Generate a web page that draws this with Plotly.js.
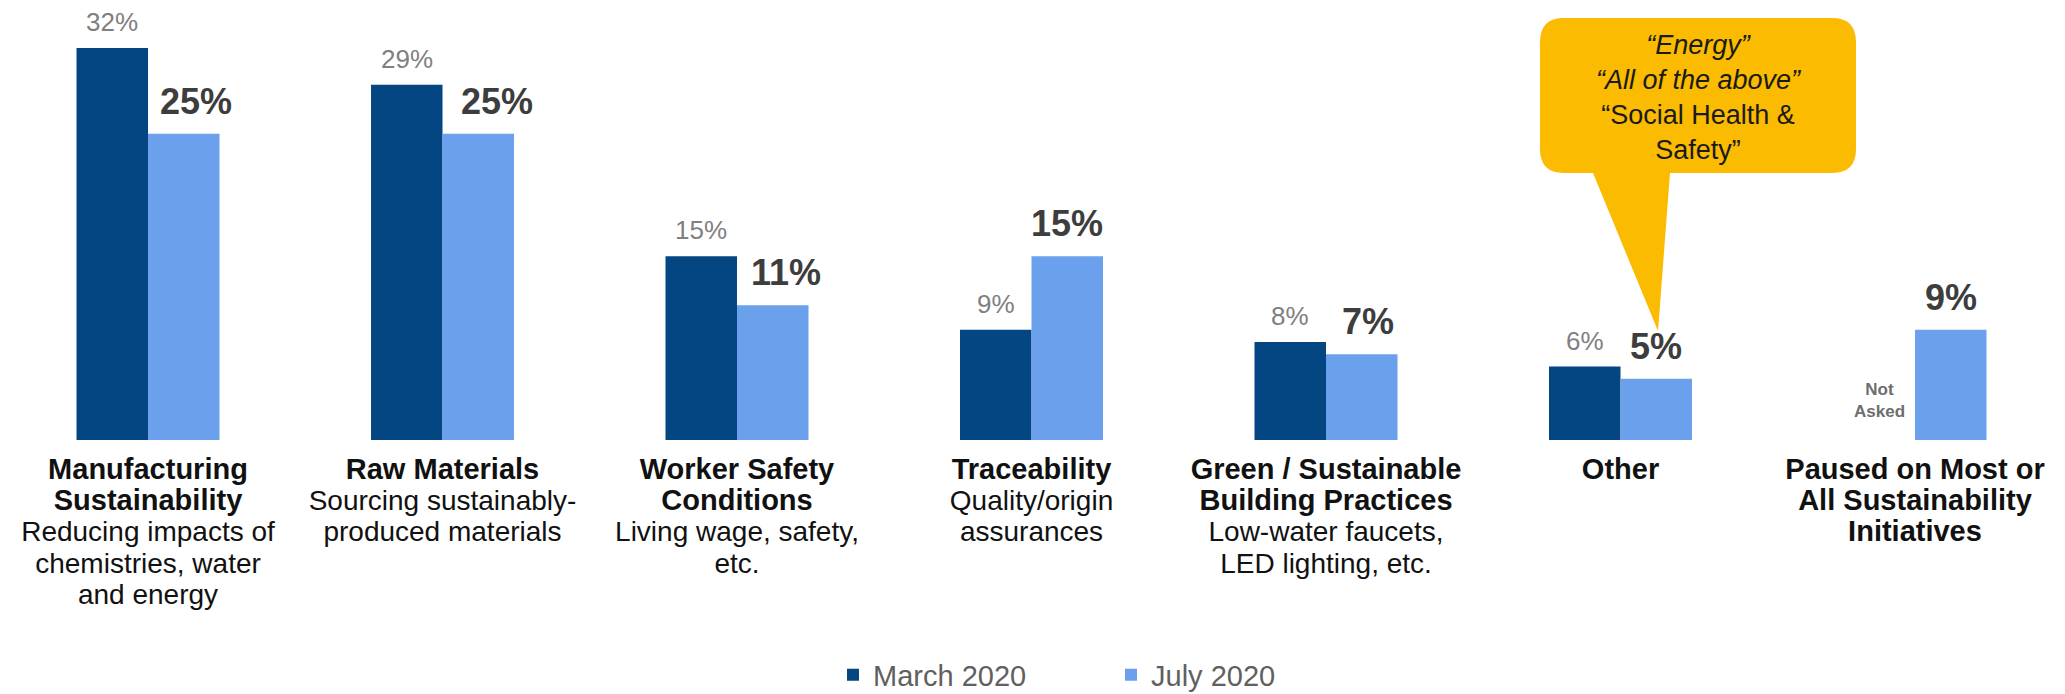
<!DOCTYPE html>
<html>
<head>
<meta charset="utf-8">
<script src="https://cdn.plot.ly/plotly-3.0.1.min.js"></script>
<style>
  html, body { margin: 0; padding: 0; background: #ffffff; }
  #chart { width: 2065px; height: 694px; }
</style>
</head>
<body>
<div id="chart"></div>
<script>
// ---------------- DATA ----------------
const categories = [
  "Manufacturing Sustainability",
  "Raw Materials",
  "Worker Safety Conditions",
  "Traceability",
  "Green / Sustainable Building Practices",
  "Other",
  "Paused on Most or All Sustainability Initiatives"
];
const categoryTitleLines = [
  ["Manufacturing", "Sustainability"],
  ["Raw Materials"],
  ["Worker Safety", "Conditions"],
  ["Traceability"],
  ["Green / Sustainable", "Building Practices"],
  ["Other"],
  ["Paused on Most or", "All Sustainability", "Initiatives"]
];
const categoryDescLines = [
  ["Reducing impacts of", "chemistries, water", "and energy"],
  ["Sourcing sustainably-", "produced materials"],
  ["Living wage, safety,", "etc."],
  ["Quality/origin", "assurances"],
  ["Low-water faucets,", "LED lighting, etc."],
  [],
  []
];
const seriesNames = ["March 2020", "July 2020"];
const march2020 = [32, 29, 15, 9, 8, 6, null];
const july2020  = [25, 25, 11, 15, 7, 5, 9];
const notAskedLabel = ["Not", "Asked"];
const calloutItalicLines = ["\u201CEnergy\u201D", "\u201CAll of the above\u201D"];
const calloutPlainLines  = ["\u201CSocial Health &amp;", "Safety\u201D"];

// ---------------- STYLE / LAYOUT CONSTANTS ----------------
const W = 2065, H = 694;
const FONT = "Liberation Sans, Arial, Helvetica, sans-serif";
const plotBottomPx = 440;          // pixel row of the bar baseline
const pxPerPercent = 12.25;
const pxPerCat = 294.5;
const firstCenterPx = 148;
const barPx = 71.5;
const darkBlue = "#044681";
const lightBlue = "#6BA0EC";
const calloutYellow = "#FBBB00";
const julyLabelNudge = [12, 19, 13, 0, 6, 0, 0];  // PowerPoint-style label offsets

const xRange = [-firstCenterPx / pxPerCat, (W - firstCenterPx) / pxPerCat];
const yRange = [0, plotBottomPx / pxPerPercent];

// tick labels (category text)
const tickText = categories.map((c, i) => {
  const t = categoryTitleLines[i].map(s => '<span style="font-size:29px"><b>' + s + '</b></span>');
  const d = categoryDescLines[i].map(s => '<span style="font-size:28px">' + s + '</span>');
  return t.concat(d).join('<br>');
});

const traces = [
  {
    type: 'bar', name: seriesNames[0], x: categories, y: march2020,
    marker: { color: darkBlue }, hoverinfo: 'x+y+name'
  },
  {
    type: 'bar', name: seriesNames[1], x: categories, y: july2020,
    marker: { color: lightBlue }, hoverinfo: 'x+y+name'
  }
];

const annotations = [];
march2020.forEach((v, i) => {
  if (v === null) return;
  annotations.push({
    x: categories[i], y: v, xref: 'x', yref: 'y',
    text: v + '%', showarrow: false,
    xshift: -barPx / 2, yanchor: 'bottom', yshift: 9,
    font: { family: FONT, size: 26, color: '#808080' }
  });
});
july2020.forEach((v, i) => {
  if (v === null) return;
  annotations.push({
    x: categories[i], y: v, xref: 'x', yref: 'y',
    text: '<b>' + v + '%</b>', showarrow: false,
    xshift: barPx / 2 + julyLabelNudge[i], yanchor: 'bottom', yshift: 10,
    font: { family: FONT, size: 36, color: '#3d3d3d' }
  });
});
// "Not Asked" in the empty March slot
march2020.forEach((v, i) => {
  if (v !== null) return;
  annotations.push({
    x: categories[i], y: 0, xref: 'x', yref: 'y',
    text: '<b>' + notAskedLabel.join('<br>') + '</b>', showarrow: false,
    xshift: -barPx / 2, yanchor: 'bottom', yshift: 17, align: 'center',
    font: { family: FONT, size: 17, color: '#6e6e6e' }
  });
});

// callout (speech bubble)
const px = x => x / W;
const py = y => 1 - y / plotBottomPx;
const box = { x0: 1540, x1: 1856, y0: 18, y1: 173, r: 24 };
const ptr = { left: 1593, right: 1670, tipX: 1658, tipY: 331 };
const P = (x, y) => px(x).toFixed(5) + ',' + py(y).toFixed(5);
const calloutPath =
  'M' + P(box.x0 + box.r, box.y0) +
  ' L' + P(box.x1 - box.r, box.y0) +
  ' Q' + P(box.x1, box.y0) + ' ' + P(box.x1, box.y0 + box.r) +
  ' L' + P(box.x1, box.y1 - box.r) +
  ' Q' + P(box.x1, box.y1) + ' ' + P(box.x1 - box.r, box.y1) +
  ' L' + P(ptr.right, box.y1) +
  ' L' + P(ptr.tipX, ptr.tipY) +
  ' L' + P(ptr.left, box.y1) +
  ' L' + P(box.x0 + box.r, box.y1) +
  ' Q' + P(box.x0, box.y1) + ' ' + P(box.x0, box.y1 - box.r) +
  ' L' + P(box.x0, box.y0 + box.r) +
  ' Q' + P(box.x0, box.y0) + ' ' + P(box.x0 + box.r, box.y0) + ' Z';

annotations.push({
  xref: 'paper', yref: 'paper',
  x: px((box.x0 + box.x1) / 2), y: py(97),
  xanchor: 'center', yanchor: 'middle', align: 'center', showarrow: false,
  text: calloutItalicLines.map(s => '<i>' + s + '</i>').concat(calloutPlainLines).join('<br>'),
  font: { family: FONT, size: 27, color: '#1a1a1a' }
});

const layout = {
  width: W, height: H,
  margin: { l: 0, r: 0, t: 0, b: H - plotBottomPx, autoexpand: false },
  paper_bgcolor: '#ffffff', plot_bgcolor: '#ffffff',
  barmode: 'group',
  bargap: 1 - 2 * barPx / pxPerCat,
  bargroupgap: 0,
  font: { family: FONT },
  xaxis: {
    type: 'category', range: xRange, showgrid: false, zeroline: false, showline: false,
    ticks: '', tickangle: 0, tickvals: categories, ticktext: tickText,
    ticklabelstandoff: 14,
    tickfont: { family: FONT, size: 24, color: '#111111' }, fixedrange: true
  },
  yaxis: { range: yRange, visible: false, fixedrange: true },
  showlegend: true,
  legend: {
    orientation: 'h', x: px(833), xanchor: 'left', y: py(675), yanchor: 'middle',
    entrywidth: 233, entrywidthmode: 'pixels',
    font: { family: FONT, size: 29, color: '#606060' }, bgcolor: 'rgba(0,0,0,0)',
    itemclick: false, itemdoubleclick: false
  },
  shapes: [{
    type: 'path', xref: 'paper', yref: 'paper', path: calloutPath,
    fillcolor: calloutYellow, line: { width: 0 }, layer: 'above'
  }],
  annotations: annotations
};

Plotly.newPlot('chart', traces, layout, { displayModeBar: false, staticPlot: true });
</script>
</body>
</html>
